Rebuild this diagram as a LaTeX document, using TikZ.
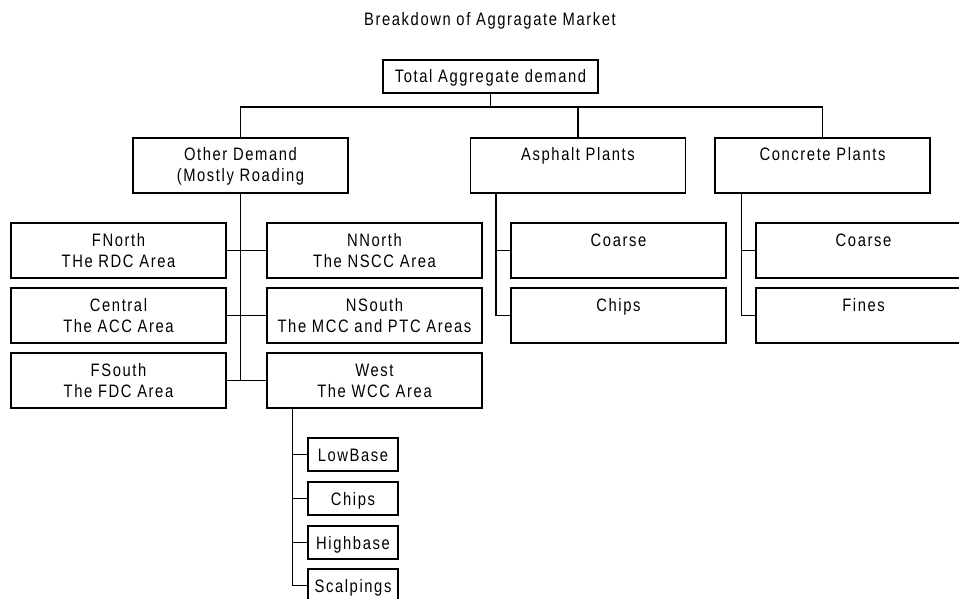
\documentclass[tikz,border=0pt]{standalone}
\usepackage{fontspec}
\setmainfont{Liberation Sans}[FakeStretch=0.82,LetterSpace=8.9]
\newcommand\topst{\rule{0pt}{16pt}}
\newcommand\botst{\rule[-4pt]{0pt}{4pt}}
\begin{document}
\begin{tikzpicture}[x=1pt,y=-1pt,
  font=\fontsize{18}{21}\selectfont,
  bigbox/.style={draw, line width=1.2pt, minimum width=215pt, minimum height=55pt, inner sep=0pt, align=center},
  onebox/.style={draw, line width=1.2pt, minimum width=215pt, minimum height=33pt, inner sep=0pt, text height=13pt, text depth=0pt},
  smallbox/.style={draw, line width=1.2pt, minimum width=90pt, minimum height=33pt, inner sep=0pt, text height=13pt, text depth=0pt},
  conn/.style={draw, line width=1.2pt}]
\useasboundingbox (0,0) rectangle (959,599);
\clip (0,0) rectangle (959,599);
\node[text height=13pt, text depth=0pt, inner sep=0pt] (title) at (490,19) {Breakdown of Aggragate Market};
\node[onebox] (total) at (490.5,76.5) {Total Aggregate demand};
\node[bigbox] (other) at (240.5,165.5) {\topst Other Demand\\(Mostly Roading\botst};
\node[bigbox] (asph) at (578,165.5) {\topst Asphalt Plants\\\botst};
\node[bigbox] (conc) at (822.5,165.5) {\topst Concrete Plants\\\botst};
% regional boxes
\node[bigbox] (fnorth) at (118.5,250.5) {\topst FNorth\\THe RDC Area\botst};
\node[bigbox] (central) at (118.5,315.5) {\topst Central\\The ACC Area\botst};
\node[bigbox] (fsouth) at (118.5,380.5) {\topst FSouth\\The FDC Area\botst};
\node[bigbox] (nnorth) at (374.5,250.5) {\topst NNorth\\The NSCC Area\botst};
\node[bigbox] (nsouth) at (374.5,315.5) {\topst NSouth\\The MCC and PTC Areas\botst};
\node[bigbox] (west) at (374.5,380.5) {\topst West\\The WCC Area\botst};
% plant children
\node[bigbox] (acoarse) at (618.5,250.5) {\topst Coarse\\\botst};
\node[bigbox] (achips) at (618.5,315.5) {\topst Chips\\\botst};
\node[bigbox] (ccoarse) at (863.5,250.5) {\topst Coarse\\\botst};
\node[bigbox] (cfines) at (863.5,315.5) {\topst Fines\\\botst};
% west children
\node[smallbox] (low) at (353,454.5) {LowBase};
\node[smallbox] (wchips) at (353,498.5) {Chips};
\node[smallbox] (high) at (353,542.5) {Highbase};
\node[smallbox] (scalp) at (353,585.5) {Scalpings};
% top level connectors
\coordinate (j0) at (490.5,107);
\draw[conn] (total.south) -- (j0);
\draw[conn] (other.north) |- (conc.north |- j0) -- (conc.north);
\draw[conn] (asph.north) -- (asph.north |- j0);
% other demand trunk
\draw[conn] (other.south) -- (other.south |- fsouth.east);
\draw[conn] (fnorth.east) -- (nnorth.west);
\draw[conn] (central.east) -- (nsouth.west);
\draw[conn] (fsouth.east) -- (west.west);
% asphalt trunk
\draw[conn] (asph.south west) ++(26,0) coordinate (at) -- (at |- achips.west) -- (achips.west);
\draw[conn] (at |- acoarse.west) -- (acoarse.west);
% concrete trunk
\draw[conn] (conc.south west) ++(27,0) coordinate (ct) -- (ct |- cfines.west) -- (cfines.west);
\draw[conn] (ct |- ccoarse.west) -- (ccoarse.west);
% west trunk
\draw[conn] (west.south west) ++(26,0) coordinate (wt) -- (wt |- scalp.west) -- (scalp.west);
\draw[conn] (wt |- low.west) -- (low.west);
\draw[conn] (wt |- wchips.west) -- (wchips.west);
\draw[conn] (wt |- high.west) -- (high.west);
\end{tikzpicture}
\end{document}
